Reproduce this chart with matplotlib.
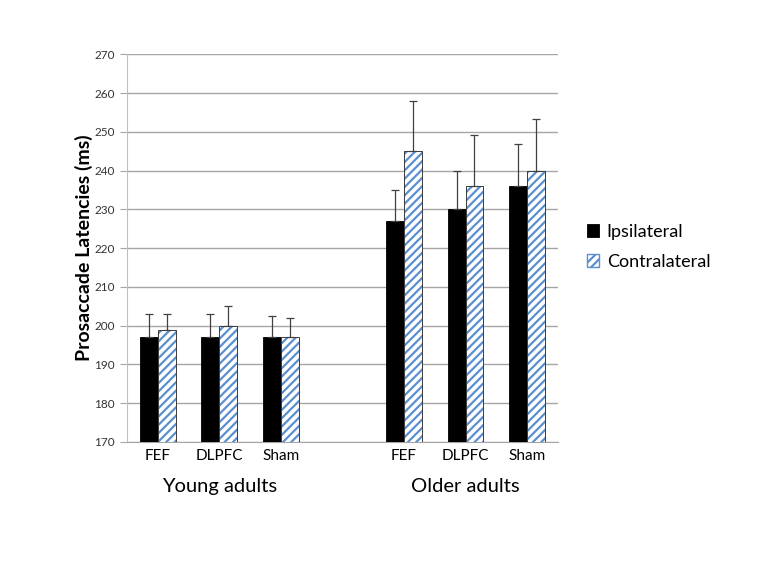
import numpy as np
import matplotlib.pyplot as plt

plt.rcParams['font.family'] = ['Lato', 'DejaVu Sans']
plt.rcParams['hatch.linewidth'] = 1.6

conditions = ['FEF', 'DLPFC', 'Sham', '', 'FEF', 'DLPFC', 'Sham']
groups = ['Young adults', 'Older adults']
ipsi = [197, 197, 197, np.nan, 227, 230, 236]
contra = [199, 200, 197, np.nan, 245, 236, 240]
ipsi_err = [6, 6, 5.5, np.nan, 8, 10, 10.8]
contra_err = [4, 5, 5, np.nan, 13, 13.3, 13.2]

x = np.arange(len(conditions))
w = 0.29

fig = plt.figure(figsize=(7.69, 5.77), dpi=100)
ax = fig.add_axes([0.165, 0.234, 0.5605, 0.672])

ax.bar(x - w/2, ipsi, w, color='black', edgecolor='black', linewidth=0.6,
       label='Ipsilateral', zorder=3)
ax.bar(x + w/2, contra, w, color='white', edgecolor='#5b8fcf', hatch='////',
       linewidth=0, zorder=3)
ax.bar(x + w/2, contra, w, fill=False, edgecolor='#3a3a3a', linewidth=0.7, zorder=4)
ax.errorbar(x - w/2, ipsi, yerr=[np.zeros(len(x)), ipsi_err], fmt='none',
            ecolor='#404040', elinewidth=0.9, capsize=3, capthick=0.9, zorder=5)
ax.errorbar(x + w/2, contra, yerr=[np.zeros(len(x)), contra_err], fmt='none',
            ecolor='#404040', elinewidth=0.9, capsize=3, capthick=0.9, zorder=5)

# legend handle for the hatched series
ax.bar([0], [0], 0, color='white', edgecolor='#5b8fcf', hatch='////',
       label='Contralateral')

ax.set_xlim(-0.5, len(x) - 0.5)
ax.set_ylim(170, 270)
ax.set_yticks(np.arange(170, 271, 10))
ax.yaxis.grid(True, color='#a6a6a6', linewidth=1)
ax.set_axisbelow(True)
for s in ['top', 'right']:
    ax.spines[s].set_visible(False)
ax.spines['left'].set_color('#bfbfbf')
ax.spines['bottom'].set_color('#a6a6a6')
ax.tick_params(axis='y', labelsize=8.5, color='#a6a6a6', length=5, labelcolor='#333333')
ax.tick_params(axis='x', length=0, labelsize=11, pad=5)
ax.set_xticks(x)
ax.set_xticklabels(conditions)
ax.set_ylabel('Prosaccade Latencies (ms)', fontsize=14, fontweight='bold', labelpad=1)

ax.text(1, -0.115, groups[0], transform=ax.get_xaxis_transform(), ha='center',
        va='center', fontsize=14.5)
ax.text(5, -0.115, groups[1], transform=ax.get_xaxis_transform(), ha='center',
        va='center', fontsize=14.5)

fig.legend(loc='upper left', bbox_to_anchor=(0.742, 0.64), frameon=False,
           fontsize=13, handlelength=0.7, handleheight=0.7, handletextpad=0.4,
           labelspacing=0.75)

fig.savefig('out.png', dpi=100)
